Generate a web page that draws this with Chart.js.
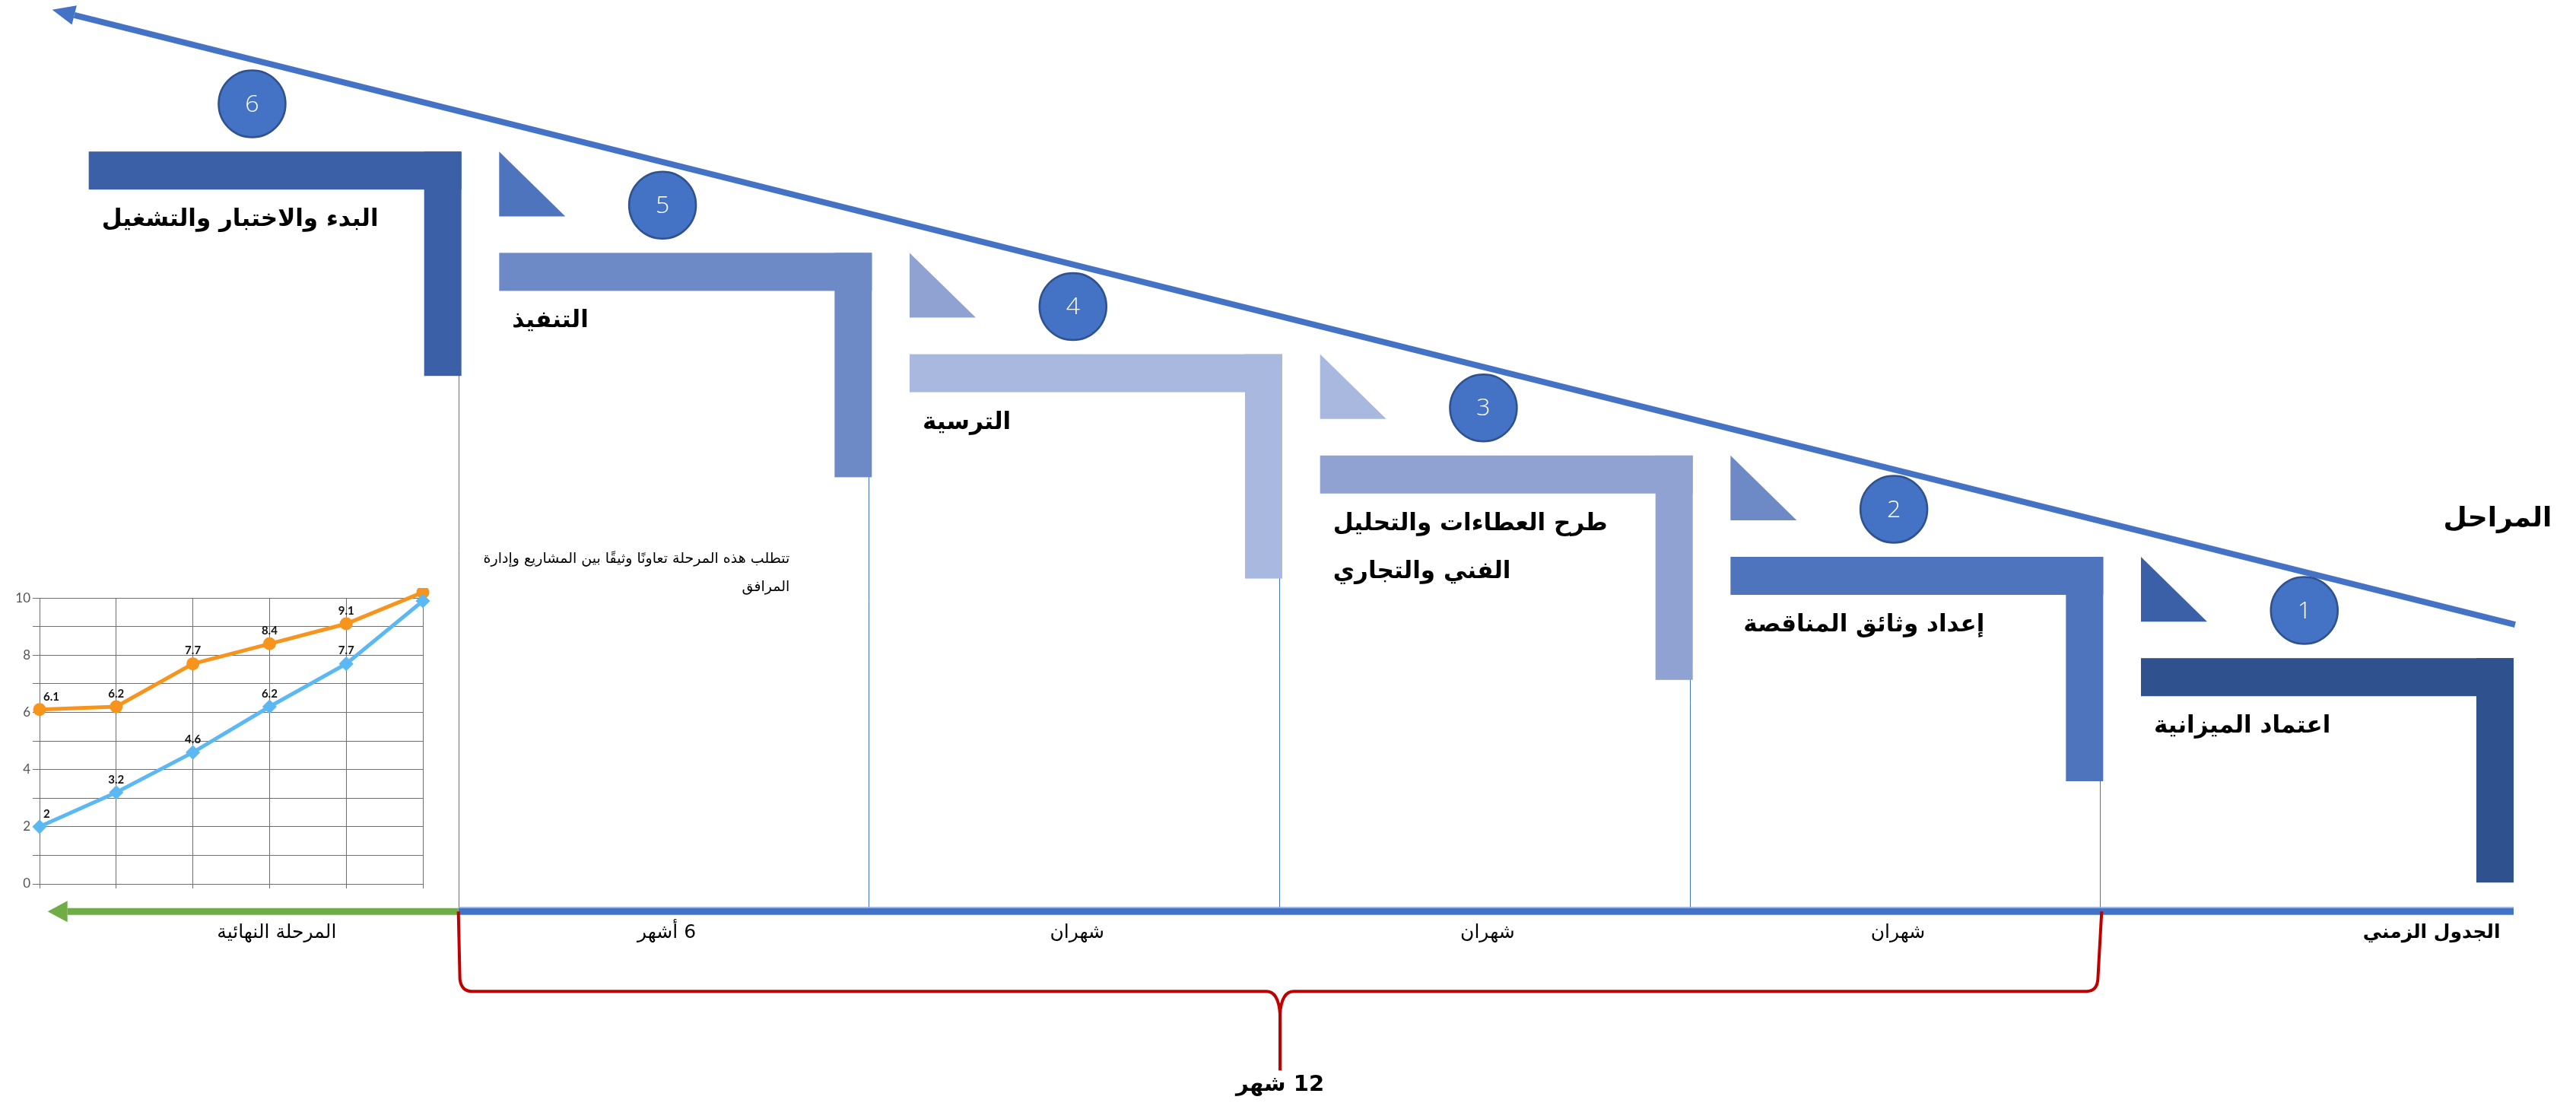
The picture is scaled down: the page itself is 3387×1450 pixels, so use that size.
<!DOCTYPE html>
<html>
<head>
<meta charset="utf-8">
<script src="https://cdn.jsdelivr.net/npm/chart.js@4.4.0/dist/chart.umd.min.js"></script>
<style>
  html, body { margin: 0; padding: 0; background: #fff; }
  #wrap { position: relative; width: 3387px; height: 1450px; overflow: hidden; }
  #stages { position: absolute; left: 0; top: 0; }
  #trend { position: absolute; left: 0; top: 773px; }
</style>
</head>
<body>
<div id="wrap">
  <canvas id="stages" width="3387" height="1450"></canvas>
  <canvas id="trend" width="580" height="410"></canvas>
</div>
<script>
// --- dữ liệu các mốc ---
const phaseNumbers = [1, 2, 3, 4, 5, 6];
const phaseNames = [
    'اعتماد الميزانية',
    'إعداد وثائق المناقصة',
    'طرح العطاءات والتحليل\nالفني والتجاري',
    'الترسية',
    'التنفيذ',
    'البدء والاختبار والتشغيل'
];
const phaseSpans = ['الجدول الزمني', 'شهران', 'شهران', 'شهران', '6 أشهر', 'المرحلة النهائية'];
const totalSpan = '12 شهر';
const stagesTitle = 'المراحل';
const phaseNote = ['تتطلب هذه المرحلة تعاونًا وثيقًا بين المشاريع وإدارة', 'المرافق'];

// --- biểu đồ nhỏ ---
const trendPoints = ['1', '2', '3', '4', '5', '6'];
const trendOrange = [6.1, 6.2, 7.7, 8.4, 9.1, 10.2];
const trendBlue = [2, 3.2, 4.6, 6.2, 7.7, 9.9];
const trendTicks = [0, 2, 4, 6, 8, 10];

// styles
const phaseFill = ['#2f528f', '#4f74be', '#8fa2d2', '#a9b8de', '#6e8ac6', '#3b60a8'];
const BLUE = '#4472c4';
const ARABIC = '"DejaVu Sans", sans-serif';
const L_W = 490, L_H = 295, L_T = 50, TRI_W = 87;
const TIMELINE = -1.5;

function drawArrow(ctx, x0, y0, x1, y1, w, head, hw, color) {
    const a = Math.atan2(y1 - y0, x1 - x0);
    const bx = x1 - head * Math.cos(a), by = y1 - head * Math.sin(a);
    ctx.strokeStyle = color;
    ctx.lineWidth = w;
    ctx.beginPath();
    ctx.moveTo(x0, y0);
    ctx.lineTo(bx, by);
    ctx.stroke();
    ctx.fillStyle = color;
    ctx.beginPath();
    ctx.moveTo(x1, y1);
    ctx.lineTo(bx + hw * Math.sin(a), by - hw * Math.cos(a));
    ctx.lineTo(bx - hw * Math.sin(a), by + hw * Math.cos(a));
    ctx.closePath();
    ctx.fill();
}

const stagesPlugin = {
    id: 'stagesDraw',
    beforeDatasetsDraw(chart) {
        const ctx = chart.ctx;
        const px = v => chart.scales.x.getPixelForValue(v);
        const py = v => chart.scales.y.getPixelForValue(v);
        const tY = py(TIMELINE);
        ctx.save();

        // duong mong giua cac cot
        ctx.strokeStyle = BLUE;
        ctx.lineWidth = 1;
        phaseNumbers.forEach(k => {
            if (k === 1) return;
            const x = Math.round(px(k - 1)) - 3.5;
            ctx.beginPath();
            ctx.moveTo(x, py(k) + L_T);
            ctx.lineTo(x, tY);
            ctx.stroke();
        });

        // khung chu L + tam giac
        phaseNumbers.forEach((k, i) => {
            const right = px(k - 1), top = py(k), left = right - L_W;
            ctx.fillStyle = phaseFill[i];
            ctx.fillRect(left, top, L_W, L_T);
            ctx.fillRect(right - L_T + 1, top, L_T - 1, L_H);
            if (k < 6) {
                const tTop = py(k + 1), tBot = top - 48;
                ctx.fillStyle = phaseFill[5 - i];
                ctx.beginPath();
                ctx.moveTo(left, tTop);
                ctx.lineTo(left, tBot);
                ctx.lineTo(left + TRI_W, tBot);
                ctx.closePath();
                ctx.fill();
            }
        });

        // mui ten tren
        drawArrow(ctx, px(0) + 2, py(1.33), px(5.997), py(7.40), 8, 30, 13, BLUE);

        // truc thoi gian
        ctx.fillStyle = BLUE;
        ctx.fillRect(px(5) - 4, tY - 4.5, px(0) - px(5) + 4, 9);
        ctx.fillStyle = '#8faadc';
        ctx.fillRect(px(5) - 4, tY - 6, px(0) - px(5) + 4, 1.5);
        drawArrow(ctx, px(5) - 4, tY, px(6.008), tY, 9, 26, 14, '#70ad47');

        // nhan thoi gian
        ctx.direction = 'rtl';
        ctx.fillStyle = '#000';
        ctx.textAlign = 'center';
        ctx.textBaseline = 'middle';
        phaseSpans.forEach((s, i) => {
            const k = i + 1;
            let x = px(k - 0.5);
            if (k === 1) x = px(0.2);
            if (k === 6) x = px(5.45);
            ctx.font = (k === 1 ? 'bold ' : '') + '25px ' + ARABIC;
            ctx.fillText(s, x, tY + 28);
        });

        // ngoac do 12 thang
        const L = px(5) - 4, R = px(1) - 2, M = px(3) - 3;
        const y1 = tY + 105, y2 = tY + 209;
        ctx.strokeStyle = '#c00000';
        ctx.lineWidth = 4;
        ctx.beginPath();
        ctx.moveTo(L, tY);
        ctx.lineTo(L + 2, y1 - 16);
        ctx.quadraticCurveTo(L + 4, y1, L + 18, y1);
        ctx.lineTo(M - 18, y1);
        ctx.quadraticCurveTo(M - 2, y1, M, y1 + 30);
        ctx.lineTo(M, y2);
        ctx.moveTo(M, y1 + 30);
        ctx.quadraticCurveTo(M + 2, y1, M + 18, y1);
        ctx.lineTo(R - 20, y1);
        ctx.quadraticCurveTo(R - 6, y1, R - 5, y1 - 16);
        ctx.lineTo(R, tY);
        ctx.stroke();
        ctx.font = 'bold 29px ' + ARABIC;
        ctx.fillStyle = '#000';
        ctx.fillText(totalSpan, M, tY + 228);

        // tieu de cac giai doan
        ctx.font = 'bold 36px ' + ARABIC;
        ctx.fillText(stagesTitle, px(0) - 21, py(1) - 183);

        // ten cac giai doan
        ctx.textAlign = 'left';
        ctx.font = 'bold 31px ' + ARABIC;
        phaseNumbers.forEach((k, i) => {
            const left = px(k - 1) - L_W + 17;
            phaseNames[i].split('\n').forEach((line, j) => {
                ctx.fillText(line, left, py(k) + 90 + (j ? 63 : 0));
            });
        });

        // ghi chu giai doan 5
        ctx.textAlign = 'right';
        ctx.font = '19px ' + ARABIC;
        phaseNote.forEach((line, j) => {
            ctx.fillText(line, px(4) - 108, py(5) + 403 + j * 37);
        });
        ctx.restore();
    },
    afterDatasetsDraw(chart) {
        const ctx = chart.ctx;
        const meta = chart.getDatasetMeta(0);
        ctx.save();
        ctx.fillStyle = '#fff';
        ctx.font = '300 32px "Open Sans", sans-serif';
        ctx.textAlign = 'center';
        ctx.textBaseline = 'middle';
        meta.data.forEach((pt, i) => {
            ctx.fillText(String(phaseNumbers[i]), pt.x, pt.y + 1);
        });
        ctx.restore();
    }
};

new Chart(document.getElementById('stages'), {
    type: 'scatter',
    data: {
        datasets: [{
            data: phaseNumbers.map(k => ({ x: k - 1 + 0.51, y: k + 0.47 })),
            pointRadius: 44,
            pointBackgroundColor: BLUE,
            pointBorderColor: '#2f528f',
            pointBorderWidth: 2.5,
            clip: false
        }]
    },
    options: {
        responsive: false,
        animation: false,
        devicePixelRatio: 1,
        events: [],
        layout: { padding: { left: 67, right: 82, top: 66, bottom: 52 } },
        plugins: { legend: { display: false }, tooltip: { enabled: false } },
        scales: {
            x: { type: 'linear', min: 0, max: 6, reverse: true, display: false },
            y: { type: 'linear', min: -3, max: 7, display: false }
        }
    },
    plugins: [stagesPlugin]
});

// gia tri tren bieu do nho
const trendValues = {
    id: 'trendValues',
    afterDatasetsDraw(chart) {
        const ctx = chart.ctx;
        ctx.save();
        ctx.font = 'bold 15px Lato, sans-serif';
        ctx.fillStyle = '#111';
        ctx.textBaseline = 'middle';
        chart.data.datasets.forEach((ds, di) => {
            chart.getDatasetMeta(di).data.forEach((pt, i) => {
                if (i === ds.data.length - 1) return;
                ctx.textAlign = i === 0 ? 'left' : 'center';
                ctx.fillText(String(ds.data[i]), i === 0 ? pt.x + 5 : pt.x, pt.y - 17);
            });
        });
        ctx.restore();
    }
};

new Chart(document.getElementById('trend'), {
    type: 'line',
    data: {
        labels: trendPoints,
        datasets: [
            {
                data: trendBlue,
                borderColor: '#5cb8f2',
                backgroundColor: '#5cb8f2',
                borderWidth: 5,
                pointRadius: 6,
                pointStyle: 'rectRot',
                tension: 0,
                clip: false
            },
            {
                data: trendOrange,
                borderColor: '#f7941d',
                backgroundColor: '#f7941d',
                borderWidth: 5,
                pointRadius: 6,
                pointStyle: 'circle',
                tension: 0,
                clip: false
            }
        ]
    },
    options: {
        responsive: false,
        animation: false,
        devicePixelRatio: 1,
        events: [],
        layout: { padding: { top: 12, right: 24, bottom: 9, left: 0 } },
        plugins: { legend: { display: false }, tooltip: { enabled: false } },
        scales: {
            x: {
                offset: false,
                grid: { color: '#6f6f6f', lineWidth: 1, tickLength: 6 },
                border: { color: '#6f6f6f' },
                ticks: { callback: () => '' },
                afterFit: s => { s.height = 12; }
            },
            y: {
                min: 0,
                max: 10,
                ticks: {
                    stepSize: 1,
                    callback: v => trendTicks.includes(v) ? v : '',
                    color: '#555',
                    font: { family: 'Lato', size: 17 },
                    padding: 3
                },
                grid: { color: '#6f6f6f', lineWidth: 1, tickLength: 9 },
                border: { color: '#6f6f6f' },
                afterFit: s => { s.width = 52; }
            }
        }
    },
    plugins: [trendValues]
});
</script>
</body>
</html>
